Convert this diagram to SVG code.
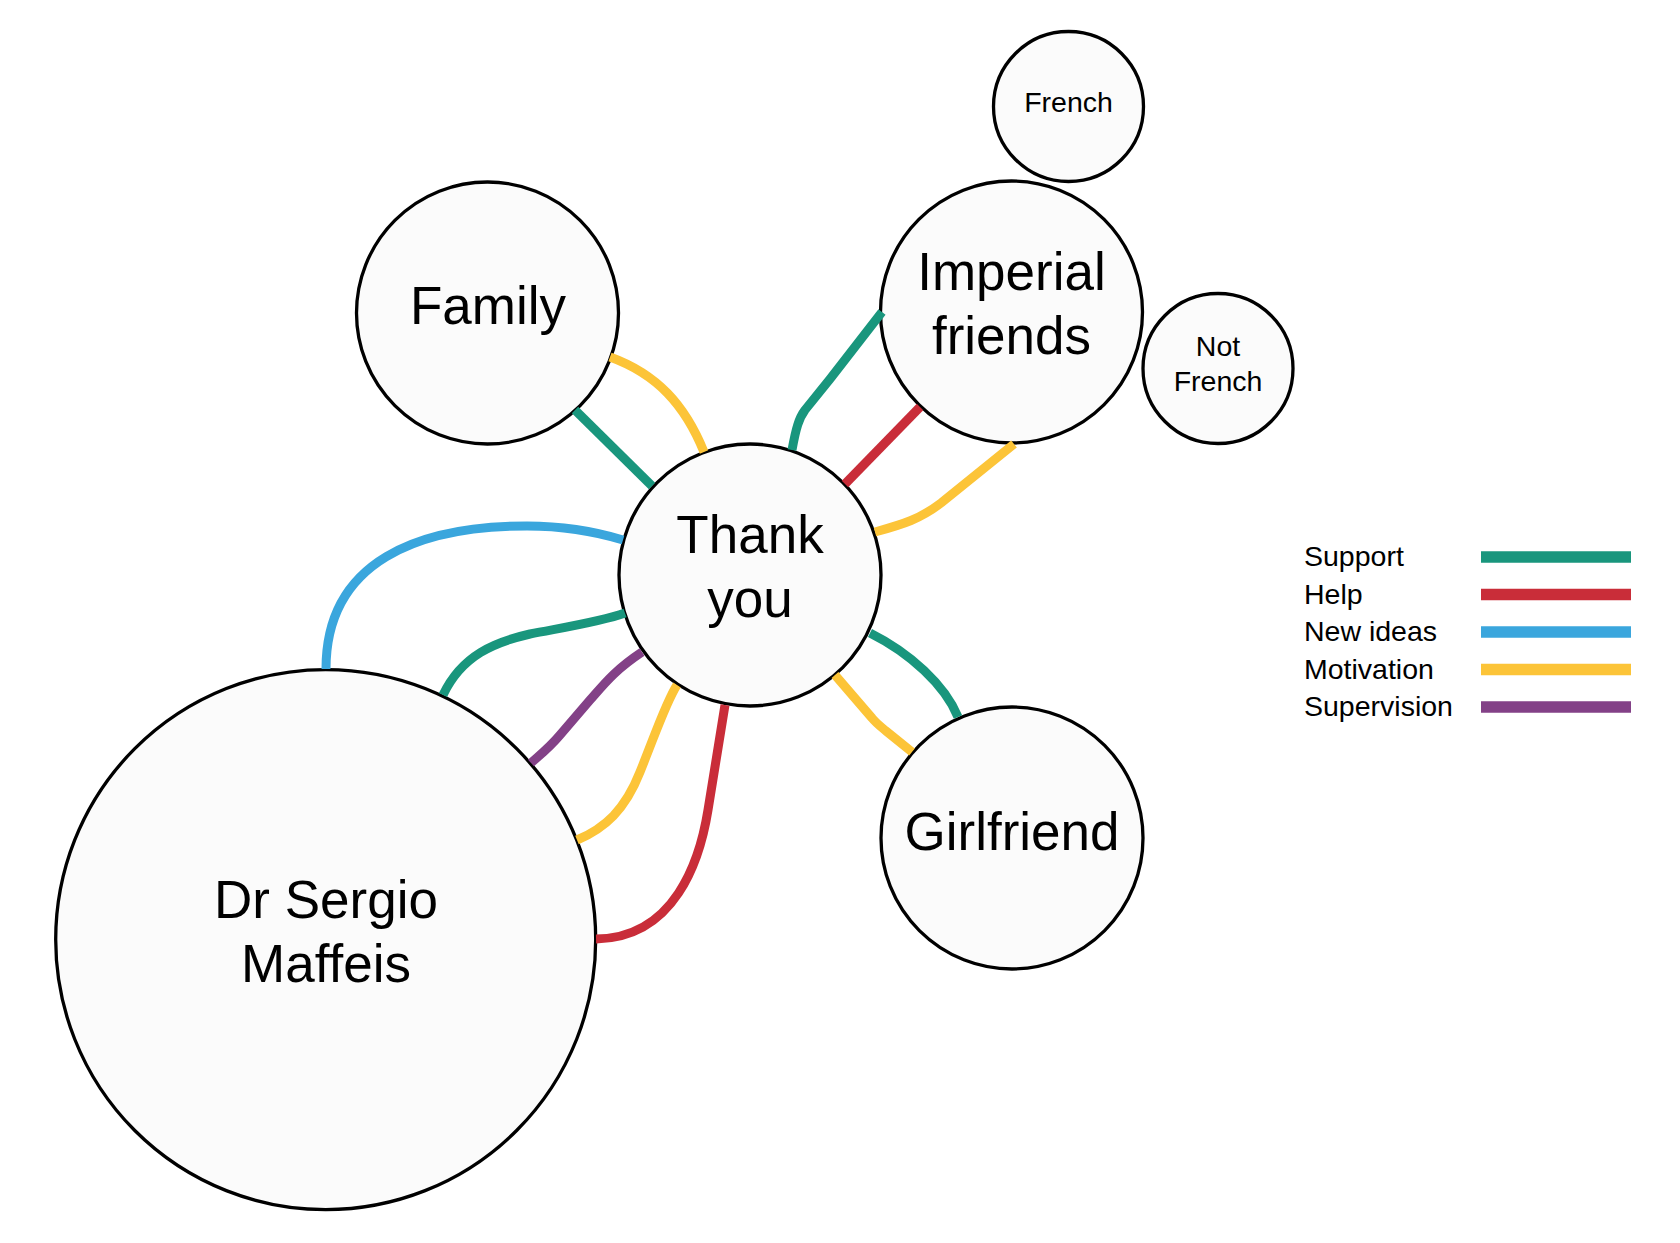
<svg xmlns="http://www.w3.org/2000/svg" width="1680" height="1243" viewBox="0 0 1680 1243">
<style>
.node circle{fill:#fbfbfb;stroke:#000;stroke-width:3.3}
.lbl{font-family:"Liberation Sans",Arial,sans-serif;fill:#000;text-anchor:middle}
.big{font-size:53px}
.small{font-size:28.5px}
.c{fill:none;stroke-width:9;stroke-linecap:butt;stroke-linejoin:round}
.support{stroke:#19967d}
.help{stroke:#c92d39}
.ideas{stroke:#3aa6dd}
.motiv{stroke:#fcc438}
.superv{stroke:#834187}
.leg{font-family:"Liberation Sans",Arial,sans-serif;font-size:28.5px;fill:#000}
.bar{stroke-width:11.5;fill:none}
</style>
<rect x="0" y="0" width="1680" height="1243" fill="#fff"/>
<g id="node-thank" class="node">
<circle cx="750" cy="575" r="131"/>
<text class="lbl big" x="750" y="553">Thank</text>
<text class="lbl big" x="750" y="617">you</text>
</g>
<g id="node-family" class="node">
<circle cx="487.5" cy="313" r="131"/>
<text class="lbl big" x="488" y="324">Family</text>
</g>
<g id="node-imperial" class="node">
<circle cx="1011.5" cy="312" r="131"/>
<text class="lbl big" x="1011.5" y="290">Imperial</text>
<text class="lbl big" x="1011.5" y="354">friends</text>
</g>
<g id="node-french" class="node">
<circle cx="1068.5" cy="106.5" r="75"/>
<text class="lbl small" x="1068.5" y="112">French</text>
</g>
<g id="node-notfrench" class="node">
<circle cx="1218" cy="368.5" r="75"/>
<text class="lbl small" x="1218" y="356">Not</text>
<text class="lbl small" x="1218" y="391">French</text>
</g>
<g id="node-girlfriend" class="node">
<circle cx="1012" cy="838" r="131"/>
<text class="lbl big" x="1012" y="850">Girlfriend</text>
</g>
<g id="node-sergio" class="node">
<circle cx="325.7" cy="939.6" r="270"/>
<text class="lbl big" x="326" y="918">Dr Sergio</text>
<text class="lbl big" x="326" y="982">Maffeis</text>
</g>
<g id="connectors">
<path class="c support" d="M575,410 L652,486"/>
<path class="c motiv" d="M610,357 C657,374 685,405 704,452"/>
<path class="c support" d="M882,312 L830,379 L805,410 C799,418 796,428 792,450"/>
<path class="c help" d="M920,407 L845,484"/>
<path class="c motiv" d="M1014,444 L941,503 C920,519 904,524 875,532"/>
<path class="c ideas" d="M326,669 C326,560 420,526 527,526 C570,526 600,533 623,540"/>
<path class="c support" d="M625,613 C600,622 560,628 530,634 C495,642 462,655 443,695"/>
<path class="c superv" d="M642,652 C615,670 605,683 590,700 L560,735 C550,747 540,755 531,763"/>
<path class="c motiv" d="M677,685 C666,702 655,735 640,772 C625,810 605,828 577,840"/>
<path class="c help" d="M725,705 L708,810 C700,860 675,938 596,939"/>
<path class="c support" d="M870,633 C910,653 945,685 958,717"/>
<path class="c motiv" d="M835,675 L872,718 C876,723 880,726 886,731 L912,752"/>
</g>
<g id="legend">
<text class="leg" x="1304" y="566">Support</text>
<text class="leg" x="1304" y="603.5">Help</text>
<text class="leg" x="1304" y="641">New ideas</text>
<text class="leg" x="1304" y="678.5">Motivation</text>
<text class="leg" x="1304" y="716">Supervision</text>
<line class="bar support" x1="1481" y1="557" x2="1631" y2="557"/>
<line class="bar help" x1="1481" y1="594.5" x2="1631" y2="594.5"/>
<line class="bar ideas" x1="1481" y1="632" x2="1631" y2="632"/>
<line class="bar motiv" x1="1481" y1="669.5" x2="1631" y2="669.5"/>
<line class="bar superv" x1="1481" y1="707" x2="1631" y2="707"/>
</g>
</svg>
